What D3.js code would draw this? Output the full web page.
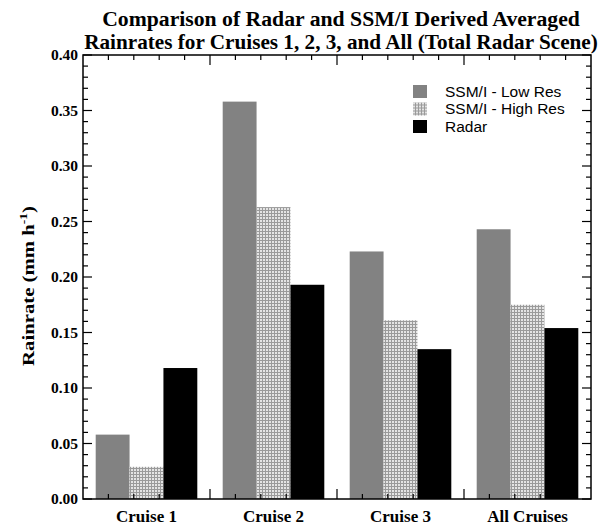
<!DOCTYPE html>
<html>
<head>
<meta charset="utf-8">
<script src="https://cdn.jsdelivr.net/npm/d3@7"></script>
<style>
  html, body { margin: 0; padding: 0; background: #fff; }
  svg { display: block; }
</style>
</head>
<body>
<svg id="chart" width="602" height="525"></svg>
<script>
// Categories, series and averaged rain rates (mm/h)
const categories = ["Cruise 1", "Cruise 2", "Cruise 3", "All Cruises"];
const seriesNames = ["SSM/I - Low Res", "SSM/I - High Res", "Radar"];
const lowRes  = [0.058, 0.358, 0.223, 0.243];
const highRes = [0.029, 0.263, 0.161, 0.175];
const radar   = [0.118, 0.193, 0.135, 0.154];
const yTicks  = [0.00, 0.05, 0.10, 0.15, 0.20, 0.25, 0.30, 0.35, 0.40];
const titleLines = [
  "Comparison of Radar and SSM/I Derived Averaged",
  "Rainrates for Cruises 1, 2, 3, and All (Total Radar Scene)"
];

const values = [lowRes, highRes, radar];
const rows = [];
categories.forEach((c, i) => {
  seriesNames.forEach((s, j) => rows.push({ cat: c, series: s, value: values[j][i] }));
});

const svg = d3.select("#chart");
const margin = { left: 83, right: 11, top: 55, bottom: 26 };
const W = 602, H = 525;
const plotW = W - margin.left - margin.right;
const plotH = H - margin.top - margin.bottom;

const serif = "'Liberation Serif', 'DejaVu Serif', serif";
const sans = "'Liberation Sans', Arial, sans-serif";

// Fine mesh fill for the high-resolution series
const defs = svg.append("defs");
const pat = defs.append("pattern")
  .attr("id", "mesh").attr("patternUnits", "userSpaceOnUse")
  .attr("width", 3).attr("height", 3);
pat.append("rect").attr("width", 3).attr("height", 3).attr("fill", "#9a9a9a");
pat.append("rect").attr("width", 2).attr("height", 2).attr("fill", "#e4e4e4");

const fills = {
  "SSM/I - Low Res": "#828282",
  "SSM/I - High Res": "url(#mesh)",
  "Radar": "#000000"
};
const color = d3.scaleOrdinal().domain(seriesNames).range(seriesNames.map(s => fills[s]));

const x = d3.scaleBand().domain(categories).range([0, plotW]).paddingInner(0).paddingOuter(0);
const xs = d3.scaleBand().domain(seriesNames).range([0, x.bandwidth()]).paddingInner(0).paddingOuter(0.375);
const y = d3.scaleLinear().domain([0, 0.4]).range([plotH, 0]);

const g = svg.append("g").attr("transform", `translate(${margin.left},${margin.top})`);

// Bars
g.selectAll("rect.bar").data(rows).join("rect")
  .attr("class", "bar")
  .attr("x", d => x(d.cat) + xs(d.series))
  .attr("y", d => y(d.value))
  .attr("width", xs.bandwidth())
  .attr("height", d => y(0) - y(d.value))
  .attr("fill", d => color(d.series));

// Frame
g.append("rect").attr("x", 0).attr("y", 0).attr("width", plotW).attr("height", plotH)
  .attr("fill", "none").attr("stroke", "#000").attr("stroke-width", 1.5);

// Y ticks: majors every 0.05, minors every 0.01, inward on both sides
const yMinor = d3.range(0, 41).map(i => i / 100);
const tickG = g.append("g").attr("stroke", "#000").attr("stroke-width", 1.2);
yMinor.forEach(v => {
  const major = Math.round(v * 100) % 5 === 0;
  const len = major ? 9 : 5;
  tickG.append("line").attr("x1", 0).attr("x2", len).attr("y1", y(v)).attr("y2", y(v));
  tickG.append("line").attr("x1", plotW).attr("x2", plotW - len).attr("y1", y(v)).attr("y2", y(v));
});

// X ticks: five divisions per category, majors at category boundaries
categories.forEach((c, i) => {
  for (let k = 0; k < 5; k++) {
    const xx = x(c) + k * x.bandwidth() / 5;
    if (i === 0 && k === 0) continue;
    const len = k === 0 ? 10 : 5;
    tickG.append("line").attr("x1", xx).attr("x2", xx).attr("y1", plotH).attr("y2", plotH - len);
    tickG.append("line").attr("x1", xx).attr("x2", xx).attr("y1", 0).attr("y2", len);
  }
});

// Y tick labels
const yAxis = d3.axisLeft(y).tickValues(yTicks).tickFormat(d3.format(".2f")).tickSize(0).tickPadding(5);
const ya = g.append("g").call(yAxis);
ya.select(".domain").remove();
ya.selectAll("text").attr("font-family", serif).attr("font-weight", "bold")
  .attr("font-size", 15.5).attr("fill", "#000");

// X category labels
const xAxis = d3.axisBottom(x).tickSize(0).tickPadding(11);
const xa = g.append("g").attr("transform", `translate(0,${plotH})`).call(xAxis);
xa.select(".domain").remove();
xa.selectAll("text").attr("font-family", serif).attr("font-weight", "bold")
  .attr("font-size", 17).attr("fill", "#000");

// Y axis title
const yt = svg.append("text")
  .attr("transform", `translate(34,286) rotate(-90)`)
  .attr("text-anchor", "middle")
  .attr("font-family", serif).attr("font-weight", "bold").attr("font-size", 17)
  .attr("textLength", 160).attr("lengthAdjust", "spacingAndGlyphs");
yt.append("tspan").text("Rainrate (mm h");
yt.append("tspan").attr("dy", -7).attr("font-size", 11).text("-1");
yt.append("tspan").attr("dy", 7).text(")");

// Chart title: each line scaled horizontally to its set width
const titleWidths = [478, 514];
titleLines.forEach((t, i) => {
  const tx = svg.append("text")
    .attr("x", 0).attr("y", 0)
    .attr("text-anchor", "middle")
    .attr("font-family", serif).attr("font-weight", "bold").attr("font-size", 22)
    .text(t);
  const natural = tx.node().getComputedTextLength();
  const sx = titleWidths[i] / natural;
  tx.attr("transform", `translate(341,${26 + i * 23}) scale(${sx},1)`);
});

// Legend
const leg = svg.append("g").attr("transform", "translate(413,85)");
seriesNames.forEach((s, i) => {
  const row = leg.append("g").attr("transform", `translate(0,${i * 17.5})`);
  row.append("rect").attr("width", 14).attr("height", 13).attr("fill", color(s));
  row.append("text").attr("x", 32).attr("y", 11.5)
    .attr("font-family", sans).attr("font-size", 15.5).attr("fill", "#000").text(s);
});
</script>
</body>
</html>
